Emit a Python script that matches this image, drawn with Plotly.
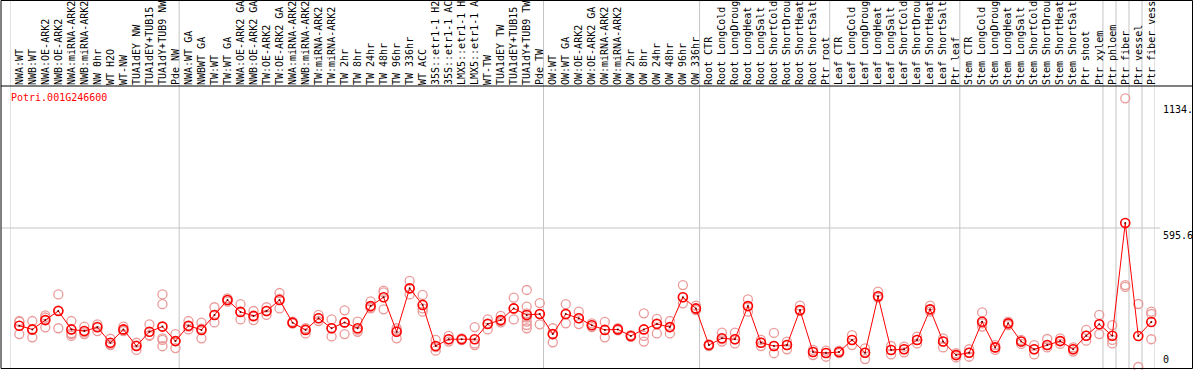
import plotly.graph_objects as go

labels = [
    "NWA:WT", "NWB:WT", "NWA:OE-ARK2", "NWB:OE-ARK2", "NWA:miRNA-ARK2", "NWB:miRNA-ARK2",
    "NW 0hr", "WT H2O", "WT-NW", "TUA1dEY NW", "TUA1dEY+TUB15", "TUA1dY+TUB9 NW", "Pde NW",
    "NWA:WT GA", "NWBWT GA", "TW:WT", "TW:WT GA", "NWA:OE-ARK2 GA", "NWB:OE-ARK2 GA",
    "TW:OE-ARK2", "TW:OE-ARK2 GA", "NWA:miRNA-ARK2", "NWB:miRNA-ARK2", "TW:miRNA-ARK2",
    "TW:miRNA-ARK2", "TW 2hr", "TW 8hr", "TW 24hr", "TW 48hr", "TW 96hr", "TW 336hr",
    "WT ACC", "35S::etr1-1 H2", "35S::etr1-1 AC", "LMX5::etr1-1 H", "LMX5::etr1-1 A",
    "WT-TW", "TUA1dEY TW", "TUA1dEY+TUB15", "TUA1dY+TUB9 TW", "Pde TW",
    "OW:WT", "OW:WT GA", "OW:OE-ARK2", "OW:OE-ARK2 GA", "OW:miRNA-ARK2", "OW:miRNA-ARK2",
    "OW 2hr", "OW 8hr", "OW 24hr", "OW 48hr", "OW 96hr", "OW 336hr",
    "Root CTR", "Root LongCold", "Root LongDroug", "Root LongHeat", "Root LongSalt",
    "Root ShortCold", "Root ShortDrou", "Root ShortHeat", "Root ShortSalt", "Ptr root",
    "Leaf CTR", "Leaf LongCold", "Leaf LongDroug", "Leaf LongHeat", "Leaf LongSalt",
    "Leaf ShortCold", "Leaf ShortDrou", "Leaf ShortHeat", "Leaf ShortSalt", "Ptr leaf",
    "Stem CTR", "Stem LongCold", "Stem LongDroug", "Stem LongHeat", "Stem LongSalt",
    "Stem ShortCold", "Stem ShortDrou", "Stem ShortHeat", "Stem ShortSalt", "Ptr shoot",
    "Ptr xylem", "Ptr phloem", "Ptr fiber", "Ptr vessel", "Ptr fiber vess",
]

means = [
    177, 161, 201, 240, 161, 154, 170, 104, 161, 90, 151, 173, 111,
    177, 159, 223, 287, 236, 219, 240, 287, 190, 159, 209, 166, 191, 166, 261,
    299, 151, 337, 266, 90, 119, 119, 119, 184, 201, 251, 223, 227,
    141, 227, 209, 179, 159, 161, 133, 161, 184, 171, 299, 251,
    94, 123, 119, 261, 104, 90, 94, 244, 64, 60,
    64, 116, 61, 303, 73, 76, 116, 247, 109, 51,
    61, 194, 84, 187, 109, 76, 94, 111, 76, 134, 183,
    134, 617, 133, 193,
]

replicates = [
    [197, 141, 193], [197, 127, 159], [221, 170, 212], [311, 166, 243], [197, 141, 145, 133],
    [173, 141, 148], [183, 154, 173], [121, 94, 97], [173, 154, 156], [104, 73, 93],
    [183, 136, 134], [311, 269, 123, 116, 89], [141, 81, 111],
    [197, 161, 173], [190, 123, 164], [256, 191, 223], [294, 280, 287], [269, 204, 236],
    [240, 201, 216], [256, 223, 240], [317, 251, 293], [194, 186, 190], [144, 166, 159],
    [223, 197, 209], [204, 131, 166], [243, 141, 191], [194, 151, 160], [281, 251, 254],
    [327, 247, 320], [123, 166, 157], [369, 311, 337], [309, 237, 251], [116, 70, 85],
    [133, 109, 119], [123, 115, 119], [171, 94, 101], [204, 161, 187], [219, 191, 196],
    [297, 204, 251], [330, 259, 230, 213, 194, 180, 166], [274, 183, 227],
    [166, 106, 141], [269, 187, 227], [237, 184, 209], [187, 179, 171], [193, 127, 159],
    [166, 157, 161], [137, 133, 129], [230, 133, 109], [206, 144, 187], [197, 144, 171],
    [351, 273, 299], [263, 244, 247],
    [97, 94, 90], [147, 109, 119], [147, 101, 119], [290, 237, 261], [116, 90, 104],
    [146, 59, 90], [109, 76, 94], [263, 240, 244], [73, 51, 64], [70, 44, 60],
    [70, 64, 60], [137, 94, 116], [80, 34, 61], [323, 297, 303], [90, 54, 73],
    [87, 63, 76], [130, 101, 116], [263, 237, 247], [123, 84, 109], [59, 41, 51],
    [76, 44, 61], [234, 173, 187], [94, 73, 84], [194, 180, 187], [116, 99, 109],
    [94, 54, 76], [120, 84, 94], [123, 99, 111], [84, 66, 76], [159, 113, 134],
    [223, 141, 183],
    [179, 116, 101], [351, 343, 1151], [270, 0], [237, 227, 119],
]

group_bounds = [0, 13, 41, 53, 63, 73, 84, 85, 86, 87, 88]
axis_labels = ["1134.", "595.6", "0"]
axis_values = [1134, 595.6, 0]
gene = "Potri.001G246600"

# ---- layout geometry ----
W, H = 1194, 370
L, R, T, B = 10, 39, 86, 3
pw, ph = W - L - R, H - T - B
n = len(labels)
x0 = -0.715
ymax = 1204
mono = "DejaVu Sans Mono"

def px_x(px):
    return (px - L) / pw

def px_y(py):
    return (H - B - py) / ph

xs = list(range(n))
rx, ry = [], []
for i, reps in enumerate(replicates):
    for v in reps:
        rx.append(i)
        ry.append(v)

fig = go.Figure()
fig.add_trace(go.Scatter(
    x=rx, y=ry, mode="markers",
    marker=dict(symbol="circle-open", size=9, color="#eb9a9a", line=dict(width=1.3)),
    hoverinfo="skip", showlegend=False, cliponaxis=False,
))
fig.add_trace(go.Scatter(
    x=xs, y=means, mode="lines+markers",
    line=dict(color="#ff0000", width=1),
    marker=dict(symbol="circle-open", size=9, color="#ff0000", line=dict(width=1.6)),
    showlegend=False, cliponaxis=False,
))
fig.add_trace(go.Scatter(
    x=xs, y=means, mode="markers",
    marker=dict(symbol="circle", size=2, color="#600000"),
    hoverinfo="skip", showlegend=False, cliponaxis=False,
))

shapes = []
gray = "#c4c4c4"
for k in group_bounds:
    shapes.append(dict(type="line", xref="x", yref="paper", x0=k + x0, x1=k + x0,
                       y0=px_y(369), y1=px_y(0), line=dict(color=gray, width=1), layer="below"))
shapes.append(dict(type="line", xref="paper", yref="y", x0=px_x(1), x1=px_x(1160),
                   y0=axis_values[1], y1=axis_values[1], line=dict(color=gray, width=1), layer="below"))
# frame
shapes.append(dict(type="rect", xref="paper", yref="paper", x0=px_x(1), x1=px_x(1192.5),
                   y0=px_y(368.5), y1=px_y(0.5), line=dict(color="black", width=1)))
shapes.append(dict(type="line", xref="paper", yref="paper", x0=px_x(1), x1=px_x(1192.5),
                   y0=px_y(86), y1=px_y(86), line=dict(color="black", width=1)))

annotations = [dict(text=gene, xref="paper", yref="paper", x=px_x(9), y=px_y(97),
                    xanchor="left", yanchor="middle", showarrow=False,
                    font=dict(family=mono, size=10, color="#ff0000"))]
for lab, val in zip(axis_labels, axis_values):
    annotations.append(dict(text=lab, xref="paper", yref="y", x=px_x(1161), y=val,
                            xanchor="left", yanchor="bottom" if val == 0 else "top",
                            showarrow=False, font=dict(family=mono, size=10, color="black")))

fig.update_layout(
    width=W, height=H, template="none",
    margin=dict(l=L, r=R, t=T, b=B, pad=0),
    paper_bgcolor="white", plot_bgcolor="white",
    xaxis=dict(range=[x0, x0 + n], side="top", tickmode="array", tickvals=xs, ticktext=labels,
               tickangle=-90, tickfont=dict(family=mono, size=10, color="black"),
               showgrid=False, zeroline=False, showline=False, ticks="", automargin=False,
               fixedrange=True),
    yaxis=dict(range=[0, ymax], showticklabels=False, showgrid=False, zeroline=False,
               showline=False, ticks="", automargin=False, fixedrange=True),
    shapes=shapes, annotations=annotations,
)
fig.write_html("out.html", config={"displayModeBar": False},
               post_script="document.body.style.margin='0px';document.body.style.overflow='hidden';")
